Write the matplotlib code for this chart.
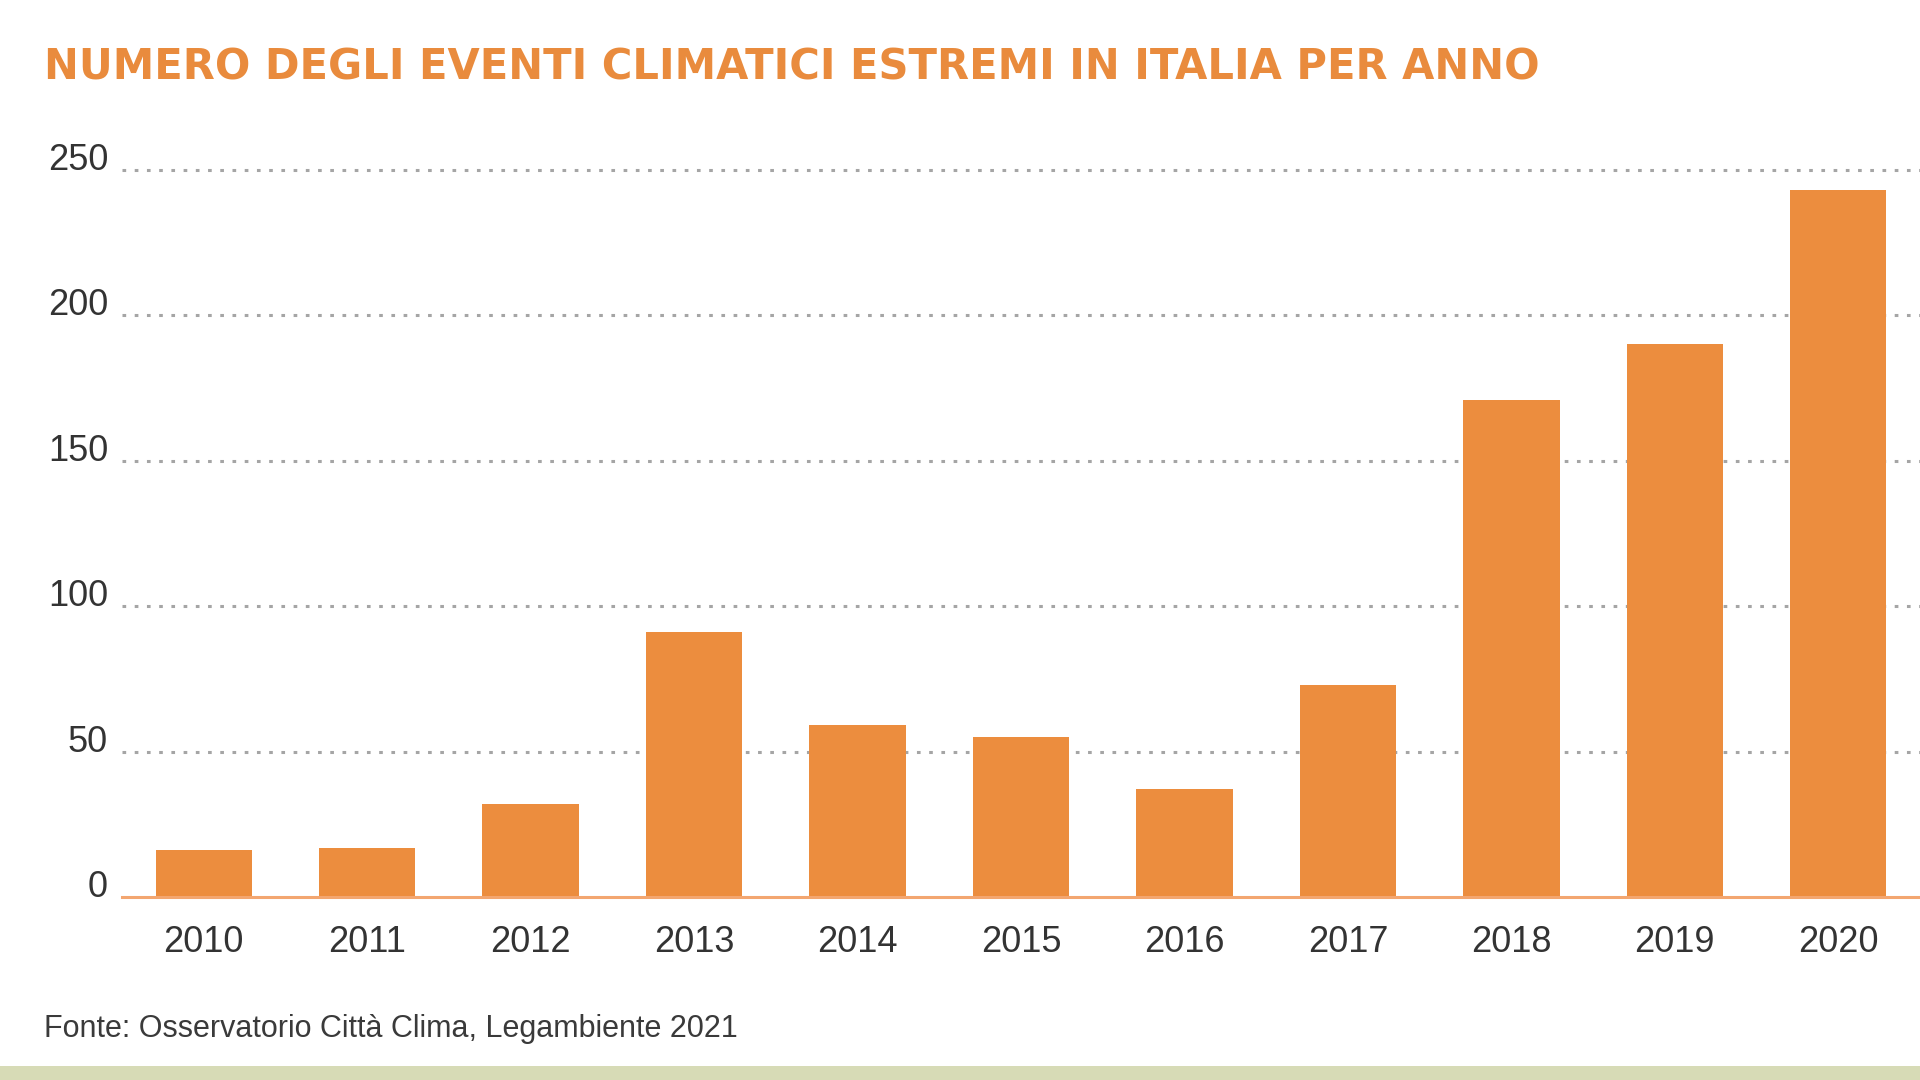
import numpy as np
import matplotlib
matplotlib.use("Agg")
import matplotlib.pyplot as plt
from matplotlib.patches import Rectangle

anni = ["2010", "2011", "2012", "2013", "2014", "2015", "2016", "2017", "2018", "2019", "2020"]
eventi = [16, 17, 32, 91, 59, 55, 37, 73, 171, 190, 243]
yticks = [0, 50, 100, 150, 200, 250]

titolo = "NUMERO DEGLI EVENTI CLIMATICI ESTREMI IN ITALIA PER ANNO"
fonte = "Fonte: Osservatorio Città Clima, Legambiente 2021"

arancio = "#EC8D3E"
grigio_testo = "#333333"

fig = plt.figure(figsize=(19.2, 10.8), dpi=100)
fig.patch.set_facecolor("white")

W, H = 1920, 1080
ax = fig.add_axes([122/W, 1 - 897/H, 1 - 122/W, (897 - 170)/H])

x = np.arange(len(anni))
ax.bar(x, eventi, width=0.59, color=arancio, zorder=3)

# dotted grid behind bars, orange base line
for v in yticks[1:]:
    ax.axhline(v, color="#a5a5a5", lw=2.2, ls=(0, (1.2, 2.8)), zorder=1, clip_on=False)
ax.axhline(0, color="#F3A670", lw=2.2, zorder=4, clip_on=False)

ax.set_xlim(-0.5, 10.5)
ax.set_ylim(0, 250)
ax.set_xticks(x)
ax.set_xticklabels(anni, fontsize=26, color=grigio_testo, family="Liberation Sans")
ax.set_yticks(yticks)
ax.set_yticklabels([str(v) for v in yticks], fontsize=26, color=grigio_testo,
                   family="Liberation Sans")
for lab in ax.get_yticklabels():
    lab.set_verticalalignment("baseline")
ax.tick_params(axis="both", length=0)
ax.tick_params(axis="x", pad=20)
ax.tick_params(axis="y", pad=10)
for s in ax.spines.values():
    s.set_visible(False)
ax.set_facecolor("none")

# title: DejaVu is wide enough to get near the letter-spaced original
t = fig.text(44/W, 1 - 67/H, titolo, fontsize=30, fontweight="bold",
             color="#E98B3D", family="DejaVu Sans", va="center", ha="left")

fig.text(44/W, 1 - 1029/H, fonte, fontsize=22, color="#3a3a3a",
         family="Liberation Sans", va="center", ha="left")

fig.patches.append(Rectangle((0, 0), 1, 14/H, transform=fig.transFigure,
                             facecolor="#D7DBB6", edgecolor="none"))

fig.savefig("out.png", dpi=100)
